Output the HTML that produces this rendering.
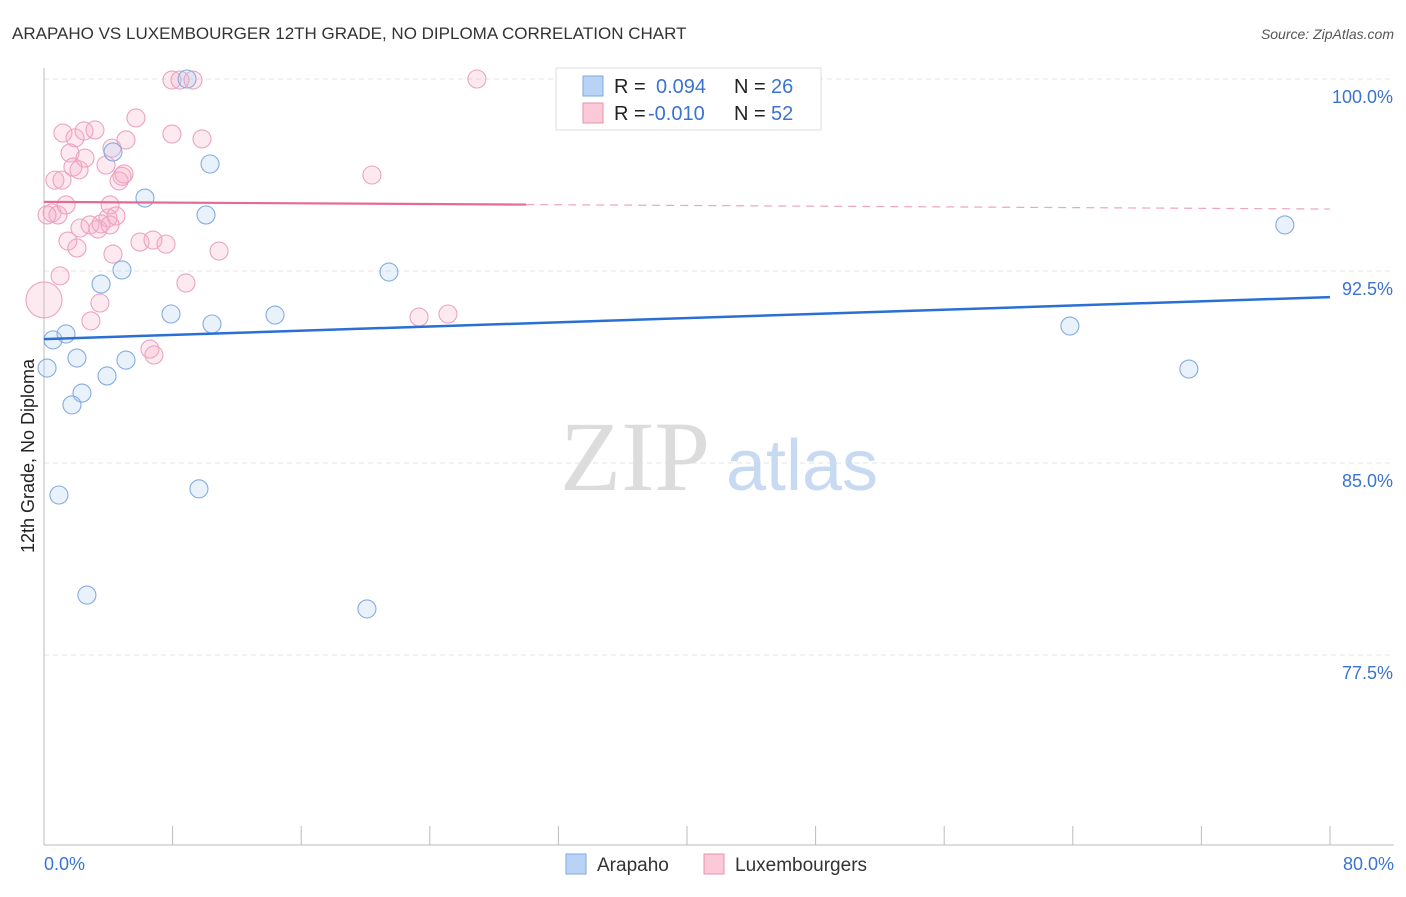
<!DOCTYPE html>
<html><head><meta charset="utf-8"><style>
body{margin:0;background:#fff;font-family:"Liberation Sans",sans-serif}
</style></head><body>
<svg width="1406" height="892" viewBox="0 0 1406 892" font-family="Liberation Sans, sans-serif">
<text x="12" y="39" font-size="17" fill="#333">ARAPAHO VS LUXEMBOURGER 12TH GRADE, NO DIPLOMA CORRELATION CHART</text>
<text x="1394" y="39" font-size="14" fill="#555" font-style="italic" text-anchor="end">Source: ZipAtlas.com</text>
<g id="grid"></g>
<text x="635" y="490" font-size="100" fill="#dcdcdc" style="font-family:'Liberation Serif',serif" text-anchor="middle">ZIP</text>
<text x="802" y="490" font-size="72" fill="#c8daf2" text-anchor="middle">atlas</text>
<line x1="44" y1="68" x2="44" y2="845" stroke="#bbb"/>
<line x1="44" y1="845" x2="1394" y2="845" stroke="#bbb"/>
<g id="xticks"></g>
<g id="points"></g>
<g id="trends"></g>
<text transform="translate(34,456) rotate(-90)" font-size="18" fill="#222" text-anchor="middle">12th Grade, No Diploma</text>
<text x="44" y="870" font-size="18" fill="#3a74d0">0.0%</text>
<text x="1394" y="870" font-size="18" fill="#3a74d0" text-anchor="end">80.0%</text>
<g>
<rect x="556" y="68" width="265" height="62" fill="#fff" stroke="#ddd"/>
<rect x="583" y="76" width="20" height="20" fill="#b8d3f5" stroke="#7ea9df"/>
<text x="614" y="93" font-size="20" fill="#222">R = </text><text x="656" y="93" font-size="20" fill="#3a74d0">0.094</text>
<text x="734" y="93" font-size="20" fill="#222">N = </text><text x="771" y="93" font-size="20" fill="#3a74d0">26</text>
<rect x="583" y="103" width="20" height="20" fill="#fcc9d8" stroke="#e991b0"/>
<text x="614" y="120" font-size="20" fill="#222">R = </text><text x="648" y="120" font-size="20" fill="#3a74d0">-0.010</text>
<text x="734" y="120" font-size="20" fill="#222">N = </text><text x="771" y="120" font-size="20" fill="#3a74d0">52</text>
</g>
<g>
<rect x="566" y="854" width="20" height="20" fill="#b8d3f5" stroke="#7ea9df"/>
<text x="597" y="871" font-size="19" fill="#333">Arapaho</text>
<rect x="704" y="854" width="20" height="20" fill="#fcc9d8" stroke="#e991b0"/>
<text x="735" y="871" font-size="19" fill="#333">Luxembourgers</text>
</g>
</svg>
<script>
const yTicks=[100,92.5,85,77.5];
const yTickLabels=["100.0%","92.5%","85.0%","77.5%"];
const xTicks=[0,8,16,24,32,40,48,56,64,72,80];
const arapahoX=[0.19,0.56,1.37,2.05,2.36,1.74,0.93,2.67,3.92,5.10,3.55,4.85,4.29,6.28,7.90,10.33,10.08,10.45,9.64,8.90,14.37,21.46,20.09,63.82,71.22,77.19];
const arapahoY=[88.71,89.81,90.04,89.10,87.73,87.27,83.75,79.84,88.40,89.02,91.99,92.54,97.15,95.35,90.82,96.68,94.69,90.43,83.99,100,90.78,92.46,79.30,90.35,88.67,94.30];
const luxX=[0,0.50,0.68,0.87,1.12,1.00,1.18,1.37,1.49,1.62,1.80,1.93,2.05,2.18,2.24,2.49,2.55,2.92,2.86,3.17,3.36,3.48,3.86,3.98,4.11,4.23,4.29,4.48,4.67,4.85,4.98,5.10,5.72,5.97,6.78,6.59,6.84,7.59,7.96,7.96,8.46,8.83,9.27,9.83,10.89,20.40,23.33,25.13,26.93,3.55,0.19,4.11];
const luxY=[91.37,94.77,96.05,94.69,96.05,92.31,97.89,95.08,93.67,97.11,96.56,97.70,93.40,96.45,94.18,97.97,96.91,90.55,94.30,98.01,94.14,91.25,96.64,94.57,95.08,97.30,93.16,94.65,96.02,96.2,96.29,97.62,98.48,93.63,93.71,89.45,89.22,93.55,99.96,97.85,99.96,92.03,99.96,97.66,93.28,96.25,90.70,90.82,100,94.34,94.69,94.30];
const luxR=[18];
const arapahoTrend=[89.84,91.48];
const luxTrend=[95.2,94.92];
const NS="http://www.w3.org/2000/svg";
const xs=v=>44+v/80*1286;
const ys=v=>79+(100-v)*25.6;
function mk(tag,attrs,parent){const e=document.createElementNS(NS,tag);for(const k in attrs)e.setAttribute(k,attrs[k]);parent.appendChild(e);return e;}
const grid=document.getElementById('grid');
yTicks.forEach((t,i)=>{
 const l=mk('line',{x1:44,x2:1394,y1:ys(t),y2:ys(t),stroke:'#e3e3e3','stroke-dasharray':'5,4'},grid);
 
 
 const tx=mk('text',{x:1393,y:ys(t)+24,'font-size':18,fill:'#3a74d0','text-anchor':'end'},grid);
 tx.textContent=yTickLabels[i];
 
 
});
const xt=document.getElementById('xticks');
xTicks.forEach(t=>{
 const l=mk('line',{x1:xs(t),x2:xs(t),y1:826,y2:845,stroke:'#bbb'},xt);
 
 
});
const pts=document.getElementById('points');
luxX.forEach((x,i)=>{
 const c=mk('circle',{cx:xs(x),cy:ys(luxY[i]),r:i===0?luxR[0]:9,fill:'rgba(246,170,198,0.25)',stroke:'#eba3be','stroke-width':1.1},pts);
 
 
});
arapahoX.forEach((x,i)=>{
 const c=mk('circle',{cx:xs(x),cy:ys(arapahoY[i]),r:9,fill:'rgba(168,200,240,0.25)',stroke:'#84acdf','stroke-width':1.1},pts);
 
 
});
const tr=document.getElementById('trends');
const ly=x=>luxTrend[0]+(luxTrend[1]-luxTrend[0])*x/80;
let a=mk('line',{x1:xs(0),y1:ys(arapahoTrend[0]),x2:xs(80),y2:ys(arapahoTrend[1]),stroke:'#2a6fd4','stroke-width':2.5},tr);


let b=mk('line',{x1:xs(0),y1:ys(ly(0)),x2:xs(30),y2:ys(ly(30)),stroke:'#e36b96','stroke-width':2.2},tr);


let d=mk('line',{x1:xs(30),y1:ys(ly(30)),x2:xs(80),y2:ys(ly(80)),stroke:'#eea4bf','stroke-width':1.2,'stroke-dasharray':'8,6'},tr);


</script>
</body></html>
